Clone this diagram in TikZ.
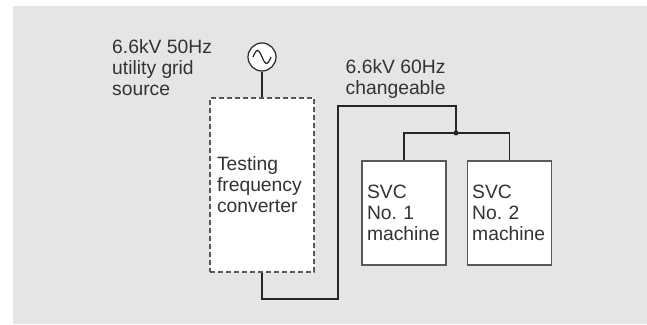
\documentclass[tikz,border=0pt]{standalone}
\usepackage{fontspec}
\setmainfont{Liberation Sans}
\usetikzlibrary{positioning}
\frenchspacing
\tikzset{
  wire/.style={line width=1.2pt, draw=black!85},
  labeltext/.style={anchor=north west, inner sep=0pt, align=left, text=black!80},
  machinebox/.style={draw=black!65, line width=1.2pt, fill=white,
    minimum width=84pt, minimum height=104pt,
    text width=74pt, inner xsep=5pt, align=left, text=black!80}
}

\begin{document}
\begin{tikzpicture}[x=1pt, y=-1pt, font=\fontsize{19.3}{21}\selectfont]
            \useasboundingbox (0,0) rectangle (647,324);
            \fill [black!10] (13,6) rectangle (647,324);

            \node [draw=black!85,
              line width=1.2pt,
              fill=white,
              circle,
              minimum size=28pt,
              inner sep=0pt
            ] (src) at (262,57) {};
            \draw [wire] ([xshift=-9pt]src.center) sin ++(4.5,-6.5) cos ++(4.5,6.5)
              sin ++(4.5,6.5) cos ++(4.5,-6.5);

            \node [labeltext] (srclabel) at (112,39.2) {6.6kV 50Hz\\utility grid\\source};

            \node [draw=black!65,
              dash pattern=on 5pt off 3pt,
              line width=1.2pt,
              fill=white,
              minimum width=104pt,
              minimum height=174pt,
              text width=90pt,
              inner xsep=7pt,
              align=left,
              text=black!80
            ] (conv) at (262,185) {Testing\\frequency\\converter};

            \node [labeltext] (outlabel) at (345.5,59.5) {6.6kV 60Hz\\changeable};

            \node [machinebox] (svc1) at (404,213) {SVC\\No. 1\\machine};
            \node [machinebox, right=20pt of svc1] (svc2) {SVC\\No. 2\\machine};

            \coordinate (lowturn) at (338,299);
            \coordinate (highturn) at (456,106);
            \coordinate (bus) at (456,133);

            \draw [wire] (src.south) -- (conv.north);
            \draw [wire] (conv.south) |- (lowturn) |- (highturn) -- (bus);
            \draw [wire] (svc1.north) |- (bus) -| (svc2.north);
            \fill [black!85] (bus) circle (2.5);
          \end{tikzpicture}
\end{document}
